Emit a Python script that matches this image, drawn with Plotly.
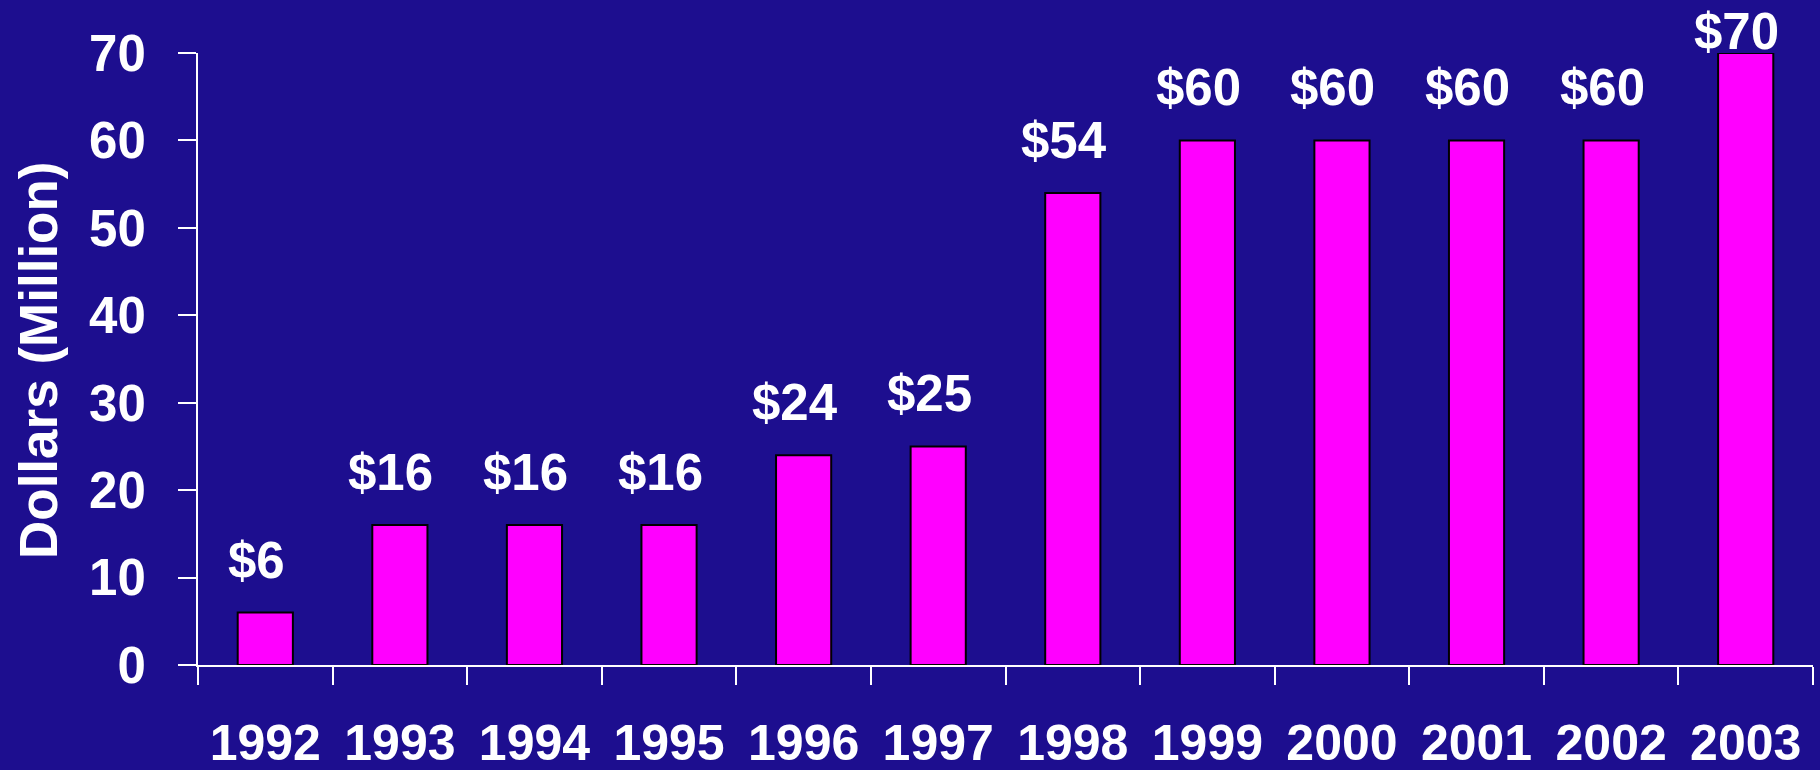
import plotly.graph_objects as go

years = ["1992", "1993", "1994", "1995", "1996", "1997", "1998", "1999", "2000", "2001", "2002", "2003"]
values = [6, 16, 16, 16, 24, 25, 54, 60, 60, 60, 60, 70]
labels = ["$" + str(v) for v in values]
y_ticks = [0, 10, 20, 30, 40, 50, 60, 70]

BG = "#1D0E8F"
FONT = "Liberation Sans, Arial, sans-serif"

fig = go.Figure()
fig.add_trace(go.Bar(
    x=years, y=values,
    marker=dict(color="#FF00FF", line=dict(color="black", width=2)),
    width=0.41,
    showlegend=False,
    hoverinfo="skip",
))

vmax = max(values)
for i, (v, lab) in enumerate(zip(values, labels)):
    fig.add_annotation(
        x=i, y=v, xref="x", yref="y", text=lab, showarrow=False,
        xanchor="center", yanchor="bottom",
        xshift=-9, yshift=(-9 if v == vmax else 22),
        font=dict(family=FONT, size=51, color="white", weight="bold"),
    )

fig.add_annotation(
    xref="paper", yref="paper", x=0, y=0.5, xshift=-160, yshift=-1,
    text="Dollars (Million)", textangle=-90, showarrow=False,
    xanchor="center", yanchor="middle",
    font=dict(family=FONT, size=53, color="white", weight="bold"),
)

fig.update_layout(
    width=1820, height=770,
    paper_bgcolor=BG, plot_bgcolor=BG,
    margin=dict(l=198, r=7, t=53, b=105),
    font=dict(family=FONT, size=51, color="white", weight="bold"),
)
fig.update_xaxes(
    type="category", tickson="boundaries",
    categoryorder="array", categoryarray=years,
    range=[-0.5, len(years) - 0.5],
    ticks="outside", ticklen=18, tickwidth=2, tickcolor="white",
    showline=True, linecolor="white", linewidth=2,
    showgrid=False, zeroline=False, tickangle=0,
    ticklabelstandoff=33, automargin=False,
    tickfont=dict(family=FONT, size=50, color="white", weight="bold"),
)
fig.update_yaxes(
    range=[0, 70], tickvals=y_ticks,
    ticks="outside", ticklen=18, tickwidth=2, tickcolor="white",
    showline=True, linecolor="white", linewidth=2,
    showgrid=False, zeroline=False,
    ticklabelstandoff=22, automargin=False,
    tickfont=dict(family=FONT, size=51, color="white", weight="bold"),
)

fig.write_html(
    "out.html",
    config={"displayModeBar": False},
    post_script="document.body.style.margin='0';document.body.style.padding='0';"
                "document.body.style.overflow='hidden';",
)
